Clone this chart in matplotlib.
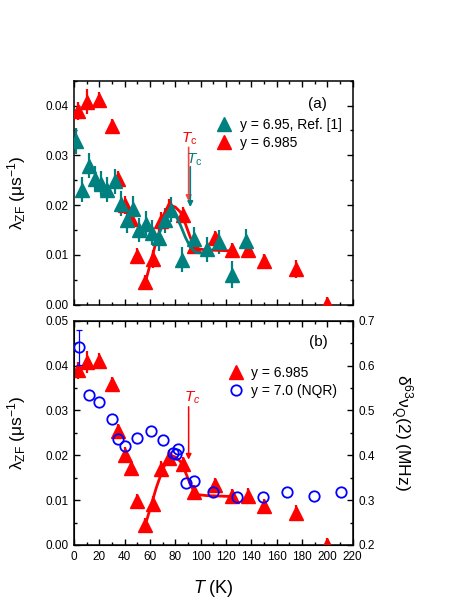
import numpy as np
import matplotlib
matplotlib.use("Agg")
import matplotlib.pyplot as plt
from matplotlib.ticker import MultipleLocator

plt.rcParams['font.family'] = ['Liberation Sans', 'DejaVu Sans']
plt.rcParams['mathtext.fontset'] = 'custom'
plt.rcParams['mathtext.rm'] = 'Liberation Sans'
plt.rcParams['mathtext.it'] = 'Liberation Sans:italic'
plt.rcParams['mathtext.bf'] = 'Liberation Sans:bold'

RED = '#ff0000'
TEAL = '#00807f'
BLUE = '#0000ff'

# y = 6.985 (muSR, this work)
T_985 = [3, 10, 20, 30, 35, 40, 45, 50, 56, 62, 69, 75, 86, 95, 111, 125, 137, 150, 175, 200]
lam_985 = [0.0389, 0.0408, 0.0411, 0.0359, 0.0253, 0.0200, 0.0172, 0.0098, 0.0045, 0.0091,
           0.0169, 0.0194, 0.0181, 0.0117, 0.0133, 0.0109, 0.0110, 0.0087, 0.0071, 0.0001]
err_985 = [0.0018, 0.0025, 0.0016, 0.0015, 0.0016, 0.0018, 0.0016, 0.0015, 0.0014, 0.0018,
           0.0018, 0.0018, 0.0016, 0.0016, 0.0016, 0.0015, 0.0016, 0.0015, 0.0018, 0.0015]

# y = 6.95, Ref. [1]
T_95 = [1.5, 6.7, 11.8, 16.5, 21.7, 26.4, 32, 36.8, 41.7, 46.8, 51.4, 56.7, 61.8, 66.9,
        71.8, 76.5, 85, 95, 104.7, 114.2, 124.7, 135.5]
lam_95 = [0.0328, 0.0231, 0.0279, 0.0253, 0.0243, 0.0231, 0.0248, 0.0203, 0.0170, 0.0193,
          0.0150, 0.0163, 0.0145, 0.0133, 0.0170, 0.0191, 0.0090, 0.0131, 0.0111, 0.0126,
          0.0060, 0.0128]
err_95 = [0.0026, 0.0025, 0.0025, 0.0025, 0.0025, 0.0025, 0.0025, 0.0025, 0.0025, 0.0025,
          0.0025, 0.0025, 0.0025, 0.0025, 0.0025, 0.0025, 0.0025, 0.0025, 0.0025, 0.0025,
          0.0027, 0.0025]

# guide-to-the-eye curves
T_line985 = [56, 60, 65, 70, 74, 77, 80, 84, 88, 92, 95, 98, 105, 115, 125]
lam_line985 = [0.0042, 0.0080, 0.0128, 0.0168, 0.0192, 0.0199, 0.0196, 0.0186, 0.0162,
               0.0134, 0.0118, 0.0112, 0.0110, 0.0109, 0.0108]
T_line95 = [66, 70, 74, 77, 80, 84, 88, 92, 96, 100, 105]
lam_line95 = [0.0135, 0.0160, 0.0180, 0.0187, 0.0181, 0.0160, 0.0135, 0.0115, 0.0105,
              0.0104, 0.0104]

# y = 7.0 NQR
T_nqr = [4.2, 11.6, 20, 30, 34.5, 40, 50, 60.5, 70, 78.2, 80.5, 82.4, 88.7, 94.7, 109.5,
         129, 149.2, 167.9, 189.2, 210.8]
nu_nqr = [0.641, 0.534, 0.519, 0.480, 0.436, 0.421, 0.439, 0.454, 0.434, 0.406, 0.403,
          0.415, 0.339, 0.343, 0.317, 0.306, 0.306, 0.317, 0.310, 0.317]
# only the lowest-T point has a visible error bar
T_nqr_err = [4.2]
nu_nqr_err = [0.641]
err_nqr = [0.039]

Tc_985 = 90.5
Tc_95 = 91.8

fig = plt.figure(figsize=(4.63, 5.99), dpi=100)
axa = fig.add_axes([0.1598, 0.4913, 0.602, 0.374])
axb = fig.add_axes([0.1598, 0.0902, 0.602, 0.3745])

tick_fs = 8.5
leg_fs = 10


def style_axis(ax, ylim):
    ax.set_xlim(0, 220)
    ax.set_ylim(*ylim)
    ax.xaxis.set_major_locator(MultipleLocator(20))
    ax.xaxis.set_minor_locator(MultipleLocator(10))
    ax.yaxis.set_major_locator(MultipleLocator(0.01))
    ax.yaxis.set_minor_locator(MultipleLocator(0.005))
    ax.tick_params(which='both', direction='in', top=True, labelsize=tick_fs, width=1)
    ax.tick_params(which='major', length=4.5, pad=4)
    ax.tick_params(which='minor', length=2.5)
    for s in ax.spines.values():
        s.set_linewidth(1.1)
    ax.yaxis.set_major_formatter(plt.FormatStrFormatter('%.2f'))
    ax.set_ylabel('λ$_{\\rm ZF}$ (μs$^{-1}$)', fontsize=12.5)
    ax.yaxis.set_label_coords(-0.165, 0.5)


# ---- panel (a)
style_axis(axa, (0, 0.045))
axa.tick_params(which='both', right=True, labelbottom=False)

axa.errorbar(T_95, lam_95, yerr=err_95, fmt='none', ecolor=TEAL, elinewidth=1.6, capsize=0, zorder=2)
axa.errorbar(T_985, lam_985, yerr=err_985, fmt='none', ecolor=RED, elinewidth=1.6, capsize=0, zorder=2)
axa.plot(T_line985, lam_line985, color=RED, lw=2, zorder=3)
h95, = axa.plot(T_95, lam_95, ls='none', marker='^', ms=9.5, color=TEAL, mec=TEAL, zorder=5,
                label='y = 6.95, Ref. [1]')
h985a, = axa.plot(T_985, lam_985, ls='none', marker='^', ms=9.5, color=RED, mec=RED, zorder=4,
                  label='y = 6.985')
axa.plot(T_line95, lam_line95, color=TEAL, lw=2, zorder=6)

axa.annotate('', xy=(Tc_985, 0.0208), xytext=(Tc_985, 0.0316),
             arrowprops=dict(arrowstyle='-|>', color='#ff4040', lw=1.2, mutation_scale=8,
                             shrinkA=0, shrinkB=0))
axa.annotate('', xy=(Tc_95, 0.0196), xytext=(Tc_95, 0.0277),
             arrowprops=dict(arrowstyle='-|>', color=TEAL, lw=1.2, mutation_scale=8,
                             shrinkA=0, shrinkB=0))
axa.text(Tc_985 + 0.5, 0.0334, r'$T_{\rm c}$', color=RED, fontsize=11, ha='center', va='center')
axa.text(Tc_95 + 3, 0.0292, r'$T_{\rm c}$', color=TEAL, fontsize=11, ha='center', va='center')
axa.text(0.874, 0.895, '(a)', transform=axa.transAxes, fontsize=11, ha='center', va='center')

axa.legend(handles=[h95, h985a], loc='upper left', bbox_to_anchor=(0.515, 0.835),
           frameon=False, fontsize=leg_fs, handlelength=1.0, handletextpad=0.6,
           borderpad=0, borderaxespad=0, labelspacing=0.3)

# ---- panel (b)
style_axis(axb, (0, 0.05))
axb.set_xticks(np.arange(0, 221, 20))
axb.set_xlabel(r'$T$ (K)', fontsize=13)
axb.xaxis.set_label_coords(0.502, -0.147)

ax2 = axb.twinx()
ax2.set_ylim(0.2, 0.7)
ax2.yaxis.set_major_locator(MultipleLocator(0.1))
ax2.yaxis.set_minor_locator(MultipleLocator(0.05))
ax2.yaxis.set_major_formatter(plt.FormatStrFormatter('%.1f'))
ax2.tick_params(which='both', direction='in', labelsize=tick_fs, width=1)
ax2.tick_params(which='major', length=4.5, pad=4)
ax2.tick_params(which='minor', length=2.5)
ax2.set_ylabel('δ$^{63}$ν$_{\\rm Q}$(2) (MHz)', fontsize=12.5, rotation=-90, va='bottom')
ax2.yaxis.set_label_coords(1.127, 0.5)
axb.tick_params(which='both', right=False)

axb.errorbar(T_985, lam_985, yerr=err_985, fmt='none', ecolor=RED, elinewidth=1.6, capsize=0, zorder=2)
axb.plot(T_line985, lam_line985, color=RED, lw=2, zorder=3)
h985b, = axb.plot(T_985, lam_985, ls='none', marker='^', ms=9.5, color=RED, mec=RED, zorder=4,
                  label='y = 6.985')
ax2.errorbar(T_nqr_err, nu_nqr_err, yerr=err_nqr, fmt='none', ecolor=BLUE, elinewidth=0.9,
             capsize=2, capthick=0.9, zorder=2)
hnqr, = ax2.plot(T_nqr, nu_nqr, ls='none', marker='o', ms=7.5, mfc='none', mec=BLUE, mew=1.3,
                 zorder=5, label='y = 7.0 (NQR)')

axb.annotate('', xy=(Tc_985, 0.0190), xytext=(Tc_985, 0.0308),
             arrowprops=dict(arrowstyle='-|>', color=RED, lw=1.1, mutation_scale=8,
                             shrinkA=0, shrinkB=0))
axb.text(Tc_985 + 2.5, 0.0328, r'$T_c$', color=RED, fontsize=11, ha='center', va='center')
axb.text(0.876, 0.903, '(b)', transform=axb.transAxes, fontsize=11, ha='center', va='center')

ax2.legend(handles=[h985b, hnqr], loc='upper left', bbox_to_anchor=(0.556, 0.80),
           frameon=False, fontsize=leg_fs, handlelength=1.0, handletextpad=0.6,
           borderpad=0, borderaxespad=0, labelspacing=0.3)

fig.savefig('out.png', dpi=100)
